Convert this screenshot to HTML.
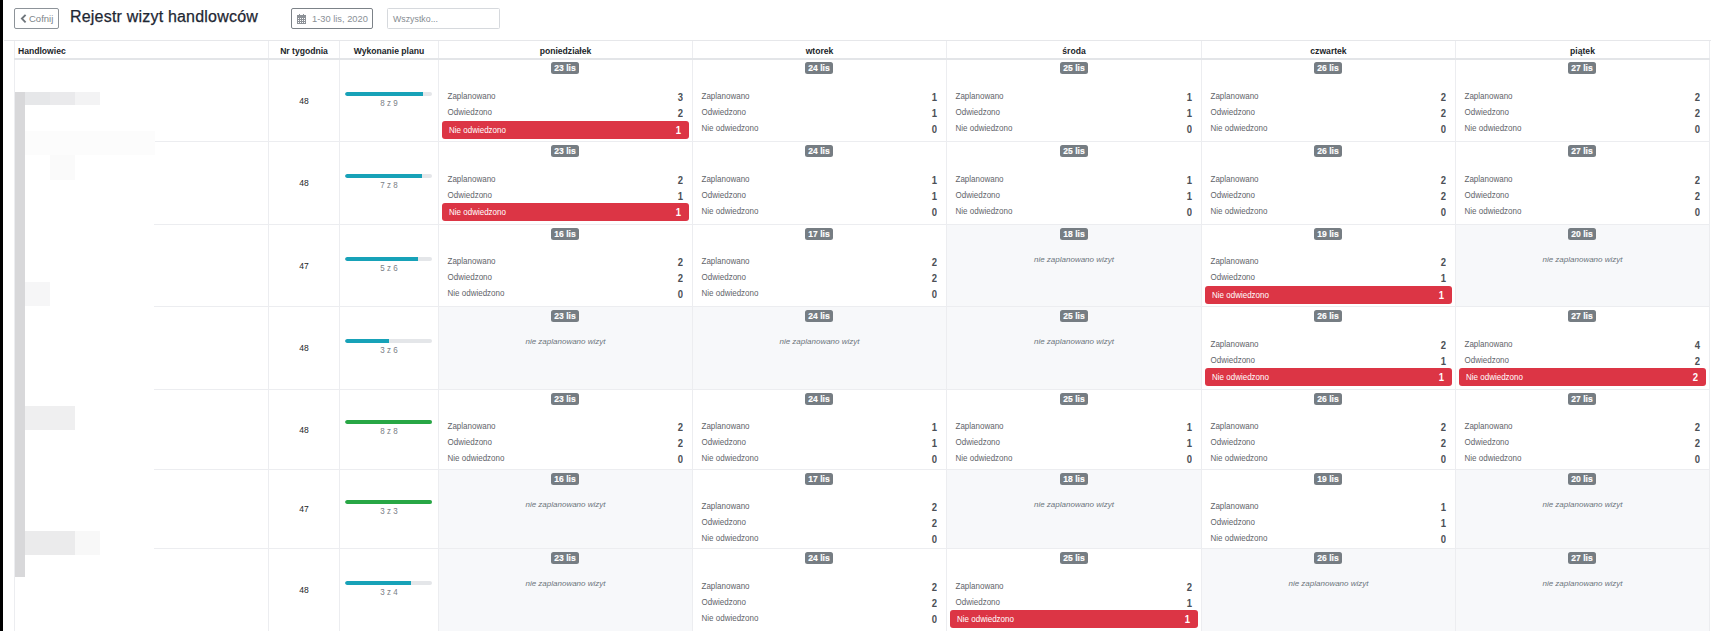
<!DOCTYPE html>
<html><head><meta charset="utf-8"><title>Rejestr wizyt handlowców</title>
<style>
html,body{margin:0;padding:0;background:#fff;}
body{width:1711px;height:631px;overflow:hidden;position:relative;font-family:"Liberation Sans", sans-serif;}
.a{position:absolute;}
.t{position:absolute;white-space:nowrap;}
.hl{position:absolute;height:1px;background:#ecedf0;}
.vl{position:absolute;width:1px;background:#ecedf0;}
.hd{position:absolute;top:43px;height:17px;line-height:17px;font-size:8.6px;font-weight:bold;color:#212529;text-align:center;white-space:nowrap;}
.bdg{position:absolute;width:28px;height:12px;border-radius:2.5px;background:#767d83;color:#fff;font-weight:bold;font-size:8.5px;line-height:12px;text-align:center;}
.bdg span{display:inline-block;position:relative;top:0.2px;transform:scaleY(1.12);transform-origin:50% 60%;-webkit-text-stroke:0.15px #fff;}
.ln{position:absolute;height:16px;line-height:16px;font-size:8px;color:#5f646a;white-space:nowrap;transform:scaleY(1.15);transform-origin:0 67%;}
.num{position:absolute;height:16px;line-height:16px;font-size:9.5px;font-weight:bold;color:#4b5056;text-align:right;transform:scaleY(1.08);transform-origin:0 70.6%;}
.red{position:absolute;height:18px;background:#dc3545;border-radius:3px;}
.nz{position:absolute;font-style:italic;font-size:8px;color:#6c757d;text-align:center;height:16px;line-height:16px;}
.wk{position:absolute;left:269px;width:70px;text-align:center;font-size:8.5px;color:#212529;height:16px;line-height:16px;}
.pb{position:absolute;left:345px;width:87px;height:4px;background:#e4e6e9;border-radius:2px;overflow:hidden;}
.pf{position:absolute;left:0;top:0;height:4px;border-radius:2px 0 0 2px;}
.pt{position:absolute;left:340px;width:98px;text-align:center;font-size:8px;color:#7a8086;height:12px;line-height:12px;transform:scaleY(1.15);transform-origin:50% 65%;}
</style></head><body>

<div class="a" style="left:0;top:0;width:3px;height:631px;background:#000"></div>
<div class="a" style="left:14px;top:8px;width:43px;height:19px;border:1px solid #8d9399;border-radius:2px;"></div>
<svg class="a" style="left:20px;top:14px" width="7" height="10" viewBox="0 0 7 10"><path d="M5.6 0.9 L1.9 4.6 L5.6 8.3" fill="none" stroke="#6f767c" stroke-width="1.9"/></svg>
<div class="t" style="left:29px;top:9px;height:19px;line-height:19px;font-size:9.5px;color:#7d848a">Cofnij</div>
<div class="t" style="left:70px;top:5px;height:24px;line-height:24px;font-size:16px;color:#1e2733;letter-spacing:0.2px;-webkit-text-stroke:0.25px #1e2733">Rejestr wizyt handlowców</div>
<div class="a" style="left:291px;top:8px;width:80px;height:19px;border:1px solid #7c8288;border-radius:2px;"></div>
<svg class="a" style="left:297px;top:14px" width="10" height="10" viewBox="0 0 10 10" shape-rendering="crispEdges"><rect x="0" y="1" width="9" height="9" fill="#8d9298"/><rect x="1" y="4" width="1" height="1" fill="#fff"/><rect x="1" y="6" width="1" height="1" fill="#fff"/><rect x="1" y="8" width="1" height="1" fill="#fff"/><rect x="3" y="4" width="1" height="1" fill="#fff"/><rect x="3" y="6" width="1" height="1" fill="#fff"/><rect x="3" y="8" width="1" height="1" fill="#fff"/><rect x="5" y="4" width="1" height="1" fill="#fff"/><rect x="5" y="6" width="1" height="1" fill="#fff"/><rect x="5" y="8" width="1" height="1" fill="#fff"/><rect x="7" y="4" width="1" height="1" fill="#fff"/><rect x="7" y="6" width="1" height="1" fill="#fff"/><rect x="7" y="8" width="1" height="1" fill="#fff"/><rect x="2" y="0" width="1" height="2" fill="#8d9298"/><rect x="6" y="0" width="1" height="2" fill="#8d9298"/></svg>
<div class="t" style="left:312px;top:9.7px;height:19px;line-height:19px;font-size:9.3px;color:#8a9096">1-30 lis, 2020</div>
<div class="a" style="left:387px;top:8px;width:111px;height:19px;border:1px solid #d6d9dd;border-radius:1.5px;"></div>
<div class="t" style="left:393px;top:9.8px;height:19px;line-height:19px;font-size:8.8px;color:#868c92">Wszystko...</div>
<div class="hl" style="left:4px;top:40px;width:1707px;background:#e6e7ea"></div>
<div class="vl" style="left:14px;top:41px;height:590px"></div>
<div class="vl" style="left:1709px;top:41px;height:590px"></div>
<div class="vl" style="left:268px;top:41px;height:590px"></div>
<div class="vl" style="left:339px;top:41px;height:590px"></div>
<div class="vl" style="left:438px;top:41px;height:590px"></div>
<div class="vl" style="left:692px;top:41px;height:590px"></div>
<div class="vl" style="left:946px;top:41px;height:590px"></div>
<div class="vl" style="left:1201px;top:41px;height:590px"></div>
<div class="vl" style="left:1455px;top:41px;height:590px"></div>
<div class="a" style="left:14px;top:58px;width:1696px;height:2px;background:#e3e5e8"></div>
<div class="hd" style="left:18px;text-align:left">Handlowiec</div>
<div class="hd" style="left:269px;width:70px">Nr tygodnia</div>
<div class="hd" style="left:340px;width:98px">Wykonanie planu</div>
<div class="hd" style="left:439px;width:253px">poniedziałek</div>
<div class="hd" style="left:693px;width:253px">wtorek</div>
<div class="hd" style="left:947px;width:254px">środa</div>
<div class="hd" style="left:1202px;width:253px">czwartek</div>
<div class="hd" style="left:1456px;width:253px">piątek</div>
<div class="hl" style="left:14px;top:141px;width:1696px"></div>
<div class="wk" style="top:92.5px">48</div>
<div class="pb" style="top:92.0px"><div class="pf" style="width:78.2px;background:#17a2b8"></div></div>
<div class="pt" style="top:97.7px">8 z 9</div>
<div class="bdg" style="left:551px;top:62px"><span>23 lis</span></div>
<div class="ln" style="left:447.5px;top:88.5px">Zaplanowano</div>
<div class="num" style="left:643px;top:89.7px;width:40px">3</div>
<div class="ln" style="left:447.5px;top:104.5px">Odwiedzono</div>
<div class="num" style="left:643px;top:105.7px;width:40px">2</div>
<div class="red" style="left:442px;top:120.5px;width:247px"></div>
<div class="ln" style="left:449px;top:122.7px;color:#fff">Nie odwiedzono</div>
<div class="num" style="left:641px;top:122.5px;width:40px;color:#fff">1</div>
<div class="bdg" style="left:805px;top:62px"><span>24 lis</span></div>
<div class="ln" style="left:701.5px;top:88.5px">Zaplanowano</div>
<div class="num" style="left:897px;top:89.7px;width:40px">1</div>
<div class="ln" style="left:701.5px;top:104.5px">Odwiedzono</div>
<div class="num" style="left:897px;top:105.7px;width:40px">1</div>
<div class="ln" style="left:701.5px;top:120.5px">Nie odwiedzono</div>
<div class="num" style="left:897px;top:121.7px;width:40px">0</div>
<div class="bdg" style="left:1060px;top:62px"><span>25 lis</span></div>
<div class="ln" style="left:955.5px;top:88.5px">Zaplanowano</div>
<div class="num" style="left:1152px;top:89.7px;width:40px">1</div>
<div class="ln" style="left:955.5px;top:104.5px">Odwiedzono</div>
<div class="num" style="left:1152px;top:105.7px;width:40px">1</div>
<div class="ln" style="left:955.5px;top:120.5px">Nie odwiedzono</div>
<div class="num" style="left:1152px;top:121.7px;width:40px">0</div>
<div class="bdg" style="left:1314px;top:62px"><span>26 lis</span></div>
<div class="ln" style="left:1210.5px;top:88.5px">Zaplanowano</div>
<div class="num" style="left:1406px;top:89.7px;width:40px">2</div>
<div class="ln" style="left:1210.5px;top:104.5px">Odwiedzono</div>
<div class="num" style="left:1406px;top:105.7px;width:40px">2</div>
<div class="ln" style="left:1210.5px;top:120.5px">Nie odwiedzono</div>
<div class="num" style="left:1406px;top:121.7px;width:40px">0</div>
<div class="bdg" style="left:1568px;top:62px"><span>27 lis</span></div>
<div class="ln" style="left:1464.5px;top:88.5px">Zaplanowano</div>
<div class="num" style="left:1660px;top:89.7px;width:40px">2</div>
<div class="ln" style="left:1464.5px;top:104.5px">Odwiedzono</div>
<div class="num" style="left:1660px;top:105.7px;width:40px">2</div>
<div class="ln" style="left:1464.5px;top:120.5px">Nie odwiedzono</div>
<div class="num" style="left:1660px;top:121.7px;width:40px">0</div>
<div class="hl" style="left:14px;top:224px;width:1696px"></div>
<div class="wk" style="top:175.0px">48</div>
<div class="pb" style="top:174.0px"><div class="pf" style="width:77.0px;background:#17a2b8"></div></div>
<div class="pt" style="top:179.7px">7 z 8</div>
<div class="bdg" style="left:551px;top:145px"><span>23 lis</span></div>
<div class="ln" style="left:447.5px;top:172.0px">Zaplanowano</div>
<div class="num" style="left:643px;top:173.2px;width:40px">2</div>
<div class="ln" style="left:447.5px;top:188.0px">Odwiedzono</div>
<div class="num" style="left:643px;top:189.2px;width:40px">1</div>
<div class="red" style="left:442px;top:202.5px;width:247px"></div>
<div class="ln" style="left:449px;top:204.7px;color:#fff">Nie odwiedzono</div>
<div class="num" style="left:641px;top:204.5px;width:40px;color:#fff">1</div>
<div class="bdg" style="left:805px;top:145px"><span>24 lis</span></div>
<div class="ln" style="left:701.5px;top:172.0px">Zaplanowano</div>
<div class="num" style="left:897px;top:173.2px;width:40px">1</div>
<div class="ln" style="left:701.5px;top:188.0px">Odwiedzono</div>
<div class="num" style="left:897px;top:189.2px;width:40px">1</div>
<div class="ln" style="left:701.5px;top:204.0px">Nie odwiedzono</div>
<div class="num" style="left:897px;top:205.2px;width:40px">0</div>
<div class="bdg" style="left:1060px;top:145px"><span>25 lis</span></div>
<div class="ln" style="left:955.5px;top:172.0px">Zaplanowano</div>
<div class="num" style="left:1152px;top:173.2px;width:40px">1</div>
<div class="ln" style="left:955.5px;top:188.0px">Odwiedzono</div>
<div class="num" style="left:1152px;top:189.2px;width:40px">1</div>
<div class="ln" style="left:955.5px;top:204.0px">Nie odwiedzono</div>
<div class="num" style="left:1152px;top:205.2px;width:40px">0</div>
<div class="bdg" style="left:1314px;top:145px"><span>26 lis</span></div>
<div class="ln" style="left:1210.5px;top:172.0px">Zaplanowano</div>
<div class="num" style="left:1406px;top:173.2px;width:40px">2</div>
<div class="ln" style="left:1210.5px;top:188.0px">Odwiedzono</div>
<div class="num" style="left:1406px;top:189.2px;width:40px">2</div>
<div class="ln" style="left:1210.5px;top:204.0px">Nie odwiedzono</div>
<div class="num" style="left:1406px;top:205.2px;width:40px">0</div>
<div class="bdg" style="left:1568px;top:145px"><span>27 lis</span></div>
<div class="ln" style="left:1464.5px;top:172.0px">Zaplanowano</div>
<div class="num" style="left:1660px;top:173.2px;width:40px">2</div>
<div class="ln" style="left:1464.5px;top:188.0px">Odwiedzono</div>
<div class="num" style="left:1660px;top:189.2px;width:40px">2</div>
<div class="ln" style="left:1464.5px;top:204.0px">Nie odwiedzono</div>
<div class="num" style="left:1660px;top:205.2px;width:40px">0</div>
<div class="hl" style="left:14px;top:306px;width:1696px"></div>
<div class="a" style="left:947px;top:225px;width:254px;height:81px;background:#f7f8fa"></div>
<div class="a" style="left:1456px;top:225px;width:253px;height:81px;background:#f7f8fa"></div>
<div class="wk" style="top:257.5px">47</div>
<div class="pb" style="top:257.0px"><div class="pf" style="width:73.3px;background:#17a2b8"></div></div>
<div class="pt" style="top:262.7px">5 z 6</div>
<div class="bdg" style="left:551px;top:228px"><span>16 lis</span></div>
<div class="ln" style="left:447.5px;top:254.0px">Zaplanowano</div>
<div class="num" style="left:643px;top:255.2px;width:40px">2</div>
<div class="ln" style="left:447.5px;top:270.0px">Odwiedzono</div>
<div class="num" style="left:643px;top:271.2px;width:40px">2</div>
<div class="ln" style="left:447.5px;top:286.0px">Nie odwiedzono</div>
<div class="num" style="left:643px;top:287.2px;width:40px">0</div>
<div class="bdg" style="left:805px;top:228px"><span>17 lis</span></div>
<div class="ln" style="left:701.5px;top:254.0px">Zaplanowano</div>
<div class="num" style="left:897px;top:255.2px;width:40px">2</div>
<div class="ln" style="left:701.5px;top:270.0px">Odwiedzono</div>
<div class="num" style="left:897px;top:271.2px;width:40px">2</div>
<div class="ln" style="left:701.5px;top:286.0px">Nie odwiedzono</div>
<div class="num" style="left:897px;top:287.2px;width:40px">0</div>
<div class="bdg" style="left:1060px;top:228px"><span>18 lis</span></div>
<div class="nz" style="left:947px;top:252.0px;width:254px">nie zaplanowano wizyt</div>
<div class="bdg" style="left:1314px;top:228px"><span>19 lis</span></div>
<div class="ln" style="left:1210.5px;top:254.0px">Zaplanowano</div>
<div class="num" style="left:1406px;top:255.2px;width:40px">2</div>
<div class="ln" style="left:1210.5px;top:270.0px">Odwiedzono</div>
<div class="num" style="left:1406px;top:271.2px;width:40px">1</div>
<div class="red" style="left:1205px;top:285.5px;width:247px"></div>
<div class="ln" style="left:1212px;top:287.7px;color:#fff">Nie odwiedzono</div>
<div class="num" style="left:1404px;top:287.5px;width:40px;color:#fff">1</div>
<div class="bdg" style="left:1568px;top:228px"><span>20 lis</span></div>
<div class="nz" style="left:1456px;top:252.0px;width:253px">nie zaplanowano wizyt</div>
<div class="hl" style="left:14px;top:389px;width:1696px"></div>
<div class="a" style="left:439px;top:307px;width:253px;height:82px;background:#f7f8fa"></div>
<div class="a" style="left:693px;top:307px;width:253px;height:82px;background:#f7f8fa"></div>
<div class="a" style="left:947px;top:307px;width:254px;height:82px;background:#f7f8fa"></div>
<div class="wk" style="top:340.0px">48</div>
<div class="pb" style="top:339.0px"><div class="pf" style="width:44.0px;background:#17a2b8"></div></div>
<div class="pt" style="top:344.7px">3 z 6</div>
<div class="bdg" style="left:551px;top:310px"><span>23 lis</span></div>
<div class="nz" style="left:439px;top:334.0px;width:253px">nie zaplanowano wizyt</div>
<div class="bdg" style="left:805px;top:310px"><span>24 lis</span></div>
<div class="nz" style="left:693px;top:334.0px;width:253px">nie zaplanowano wizyt</div>
<div class="bdg" style="left:1060px;top:310px"><span>25 lis</span></div>
<div class="nz" style="left:947px;top:334.0px;width:254px">nie zaplanowano wizyt</div>
<div class="bdg" style="left:1314px;top:310px"><span>26 lis</span></div>
<div class="ln" style="left:1210.5px;top:337.0px">Zaplanowano</div>
<div class="num" style="left:1406px;top:338.2px;width:40px">2</div>
<div class="ln" style="left:1210.5px;top:353.0px">Odwiedzono</div>
<div class="num" style="left:1406px;top:354.2px;width:40px">1</div>
<div class="red" style="left:1205px;top:367.5px;width:247px"></div>
<div class="ln" style="left:1212px;top:369.7px;color:#fff">Nie odwiedzono</div>
<div class="num" style="left:1404px;top:369.5px;width:40px;color:#fff">1</div>
<div class="bdg" style="left:1568px;top:310px"><span>27 lis</span></div>
<div class="ln" style="left:1464.5px;top:337.0px">Zaplanowano</div>
<div class="num" style="left:1660px;top:338.2px;width:40px">4</div>
<div class="ln" style="left:1464.5px;top:353.0px">Odwiedzono</div>
<div class="num" style="left:1660px;top:354.2px;width:40px">2</div>
<div class="red" style="left:1459px;top:367.5px;width:247px"></div>
<div class="ln" style="left:1466px;top:369.7px;color:#fff">Nie odwiedzono</div>
<div class="num" style="left:1658px;top:369.5px;width:40px;color:#fff">2</div>
<div class="hl" style="left:14px;top:469px;width:1696px"></div>
<div class="wk" style="top:421.5px">48</div>
<div class="pb" style="top:420.0px"><div class="pf" style="width:88.0px;background:#28a745"></div></div>
<div class="pt" style="top:425.7px">8 z 8</div>
<div class="bdg" style="left:551px;top:393px"><span>23 lis</span></div>
<div class="ln" style="left:447.5px;top:418.5px">Zaplanowano</div>
<div class="num" style="left:643px;top:419.7px;width:40px">2</div>
<div class="ln" style="left:447.5px;top:434.5px">Odwiedzono</div>
<div class="num" style="left:643px;top:435.7px;width:40px">2</div>
<div class="ln" style="left:447.5px;top:450.5px">Nie odwiedzono</div>
<div class="num" style="left:643px;top:451.7px;width:40px">0</div>
<div class="bdg" style="left:805px;top:393px"><span>24 lis</span></div>
<div class="ln" style="left:701.5px;top:418.5px">Zaplanowano</div>
<div class="num" style="left:897px;top:419.7px;width:40px">1</div>
<div class="ln" style="left:701.5px;top:434.5px">Odwiedzono</div>
<div class="num" style="left:897px;top:435.7px;width:40px">1</div>
<div class="ln" style="left:701.5px;top:450.5px">Nie odwiedzono</div>
<div class="num" style="left:897px;top:451.7px;width:40px">0</div>
<div class="bdg" style="left:1060px;top:393px"><span>25 lis</span></div>
<div class="ln" style="left:955.5px;top:418.5px">Zaplanowano</div>
<div class="num" style="left:1152px;top:419.7px;width:40px">1</div>
<div class="ln" style="left:955.5px;top:434.5px">Odwiedzono</div>
<div class="num" style="left:1152px;top:435.7px;width:40px">1</div>
<div class="ln" style="left:955.5px;top:450.5px">Nie odwiedzono</div>
<div class="num" style="left:1152px;top:451.7px;width:40px">0</div>
<div class="bdg" style="left:1314px;top:393px"><span>26 lis</span></div>
<div class="ln" style="left:1210.5px;top:418.5px">Zaplanowano</div>
<div class="num" style="left:1406px;top:419.7px;width:40px">2</div>
<div class="ln" style="left:1210.5px;top:434.5px">Odwiedzono</div>
<div class="num" style="left:1406px;top:435.7px;width:40px">2</div>
<div class="ln" style="left:1210.5px;top:450.5px">Nie odwiedzono</div>
<div class="num" style="left:1406px;top:451.7px;width:40px">0</div>
<div class="bdg" style="left:1568px;top:393px"><span>27 lis</span></div>
<div class="ln" style="left:1464.5px;top:418.5px">Zaplanowano</div>
<div class="num" style="left:1660px;top:419.7px;width:40px">2</div>
<div class="ln" style="left:1464.5px;top:434.5px">Odwiedzono</div>
<div class="num" style="left:1660px;top:435.7px;width:40px">2</div>
<div class="ln" style="left:1464.5px;top:450.5px">Nie odwiedzono</div>
<div class="num" style="left:1660px;top:451.7px;width:40px">0</div>
<div class="hl" style="left:14px;top:548px;width:1696px"></div>
<div class="a" style="left:439px;top:470px;width:253px;height:78px;background:#f7f8fa"></div>
<div class="a" style="left:947px;top:470px;width:254px;height:78px;background:#f7f8fa"></div>
<div class="a" style="left:1456px;top:470px;width:253px;height:78px;background:#f7f8fa"></div>
<div class="wk" style="top:501.0px">47</div>
<div class="pb" style="top:500.0px"><div class="pf" style="width:88.0px;background:#28a745"></div></div>
<div class="pt" style="top:505.7px">3 z 3</div>
<div class="bdg" style="left:551px;top:473px"><span>16 lis</span></div>
<div class="nz" style="left:439px;top:497.0px;width:253px">nie zaplanowano wizyt</div>
<div class="bdg" style="left:805px;top:473px"><span>17 lis</span></div>
<div class="ln" style="left:701.5px;top:499.0px">Zaplanowano</div>
<div class="num" style="left:897px;top:500.2px;width:40px">2</div>
<div class="ln" style="left:701.5px;top:515.0px">Odwiedzono</div>
<div class="num" style="left:897px;top:516.2px;width:40px">2</div>
<div class="ln" style="left:701.5px;top:531.0px">Nie odwiedzono</div>
<div class="num" style="left:897px;top:532.2px;width:40px">0</div>
<div class="bdg" style="left:1060px;top:473px"><span>18 lis</span></div>
<div class="nz" style="left:947px;top:497.0px;width:254px">nie zaplanowano wizyt</div>
<div class="bdg" style="left:1314px;top:473px"><span>19 lis</span></div>
<div class="ln" style="left:1210.5px;top:499.0px">Zaplanowano</div>
<div class="num" style="left:1406px;top:500.2px;width:40px">1</div>
<div class="ln" style="left:1210.5px;top:515.0px">Odwiedzono</div>
<div class="num" style="left:1406px;top:516.2px;width:40px">1</div>
<div class="ln" style="left:1210.5px;top:531.0px">Nie odwiedzono</div>
<div class="num" style="left:1406px;top:532.2px;width:40px">0</div>
<div class="bdg" style="left:1568px;top:473px"><span>20 lis</span></div>
<div class="nz" style="left:1456px;top:497.0px;width:253px">nie zaplanowano wizyt</div>
<div class="a" style="left:439px;top:549px;width:253px;height:82px;background:#f7f8fa"></div>
<div class="a" style="left:1202px;top:549px;width:253px;height:82px;background:#f7f8fa"></div>
<div class="a" style="left:1456px;top:549px;width:253px;height:82px;background:#f7f8fa"></div>
<div class="wk" style="top:582.0px">48</div>
<div class="pb" style="top:581.0px"><div class="pf" style="width:66.0px;background:#17a2b8"></div></div>
<div class="pt" style="top:586.7px">3 z 4</div>
<div class="bdg" style="left:551px;top:552px"><span>23 lis</span></div>
<div class="nz" style="left:439px;top:576.0px;width:253px">nie zaplanowano wizyt</div>
<div class="bdg" style="left:805px;top:552px"><span>24 lis</span></div>
<div class="ln" style="left:701.5px;top:579.0px">Zaplanowano</div>
<div class="num" style="left:897px;top:580.2px;width:40px">2</div>
<div class="ln" style="left:701.5px;top:595.0px">Odwiedzono</div>
<div class="num" style="left:897px;top:596.2px;width:40px">2</div>
<div class="ln" style="left:701.5px;top:611.0px">Nie odwiedzono</div>
<div class="num" style="left:897px;top:612.2px;width:40px">0</div>
<div class="bdg" style="left:1060px;top:552px"><span>25 lis</span></div>
<div class="ln" style="left:955.5px;top:579.0px">Zaplanowano</div>
<div class="num" style="left:1152px;top:580.2px;width:40px">2</div>
<div class="ln" style="left:955.5px;top:595.0px">Odwiedzono</div>
<div class="num" style="left:1152px;top:596.2px;width:40px">1</div>
<div class="red" style="left:950px;top:609.5px;width:248px"></div>
<div class="ln" style="left:957px;top:611.7px;color:#fff">Nie odwiedzono</div>
<div class="num" style="left:1150px;top:611.5px;width:40px;color:#fff">1</div>
<div class="bdg" style="left:1314px;top:552px"><span>26 lis</span></div>
<div class="nz" style="left:1202px;top:576.0px;width:253px">nie zaplanowano wizyt</div>
<div class="bdg" style="left:1568px;top:552px"><span>27 lis</span></div>
<div class="nz" style="left:1456px;top:576.0px;width:253px">nie zaplanowano wizyt</div>
<div class="a" style="left:15px;top:60px;width:139px;height:571px;background:#fff"></div>
<div class="a" style="left:15px;top:92px;width:10px;height:485px;background:#d8d8da"></div>
<div class="a" style="left:25px;top:92px;width:25px;height:13px;background:#e6e7e9"></div>
<div class="a" style="left:50px;top:92px;width:25px;height:13px;background:#eaeaec"></div>
<div class="a" style="left:75px;top:92px;width:25px;height:13px;background:#f3f3f4"></div>
<div class="a" style="left:25px;top:131px;width:130px;height:24px;background:#fcfcfc"></div>
<div class="a" style="left:50px;top:155px;width:25px;height:25px;background:#fafafa"></div>
<div class="a" style="left:25px;top:282px;width:25px;height:24px;background:#f6f6f7"></div>
<div class="a" style="left:25px;top:406px;width:50px;height:24px;background:#efeff0"></div>
<div class="a" style="left:25px;top:531px;width:50px;height:24px;background:#ebebec"></div>
<div class="a" style="left:75px;top:531px;width:25px;height:24px;background:#f8f8f8"></div>
</body></html>
